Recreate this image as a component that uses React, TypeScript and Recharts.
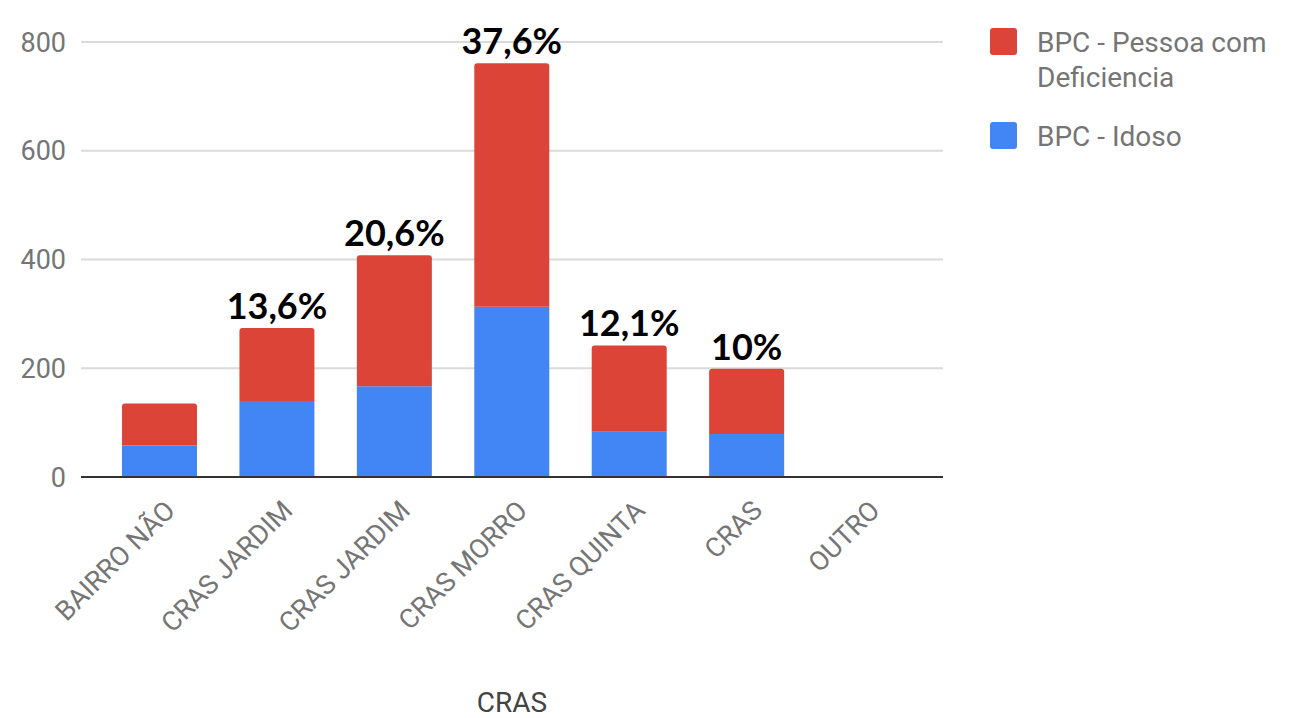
import React from "react";
import { BarChart, Bar, XAxis, YAxis, CartesianGrid, LabelList } from "recharts";

const categories = ["BAIRRO NÃO", "CRAS JARDIM", "CRAS JARDIM", "CRAS MORRO", "CRAS QUINTA", "CRAS", "OUTRO"];
const idoso = [58, 140, 167, 313, 83, 79, 0];
const deficiencia = [77, 134, 241, 448, 159, 120, 0];
const percentLabels = ["", "13,6%", "20,6%", "37,6%", "12,1%", "10%", ""];
const yTicks = [0, 200, 400, 600, 800];

const RED = "#db4437";
const BLUE = "#4285f4";
const GRAY_TEXT = "#757575";

const data = categories.map((name, i) => ({
  name,
  idoso: idoso[i],
  deficiencia: deficiencia[i],
  pct: percentLabels[i],
}));

// rotated category tick, anchored at its end like the sheets chart
function AngledTick({ x, y, payload }: any) {
  return (
    <g transform={`translate(${x + 17},${y + 35})`}>
      <text
        textAnchor="end"
        transform="rotate(-45)"
        fill={GRAY_TEXT}
        fontSize={27}
        fontFamily="Roboto"
      >
        {payload.value}
      </text>
    </g>
  );
}

function LegendBox() {
  const item = { display: "flex", alignItems: "flex-start" } as const;
  const swatch = (c: string) => ({
    width: 27,
    height: 27,
    borderRadius: 3,
    background: c,
    flex: "none",
    marginRight: 20,
  });
  return (
    <div
      style={{
        position: "absolute",
        left: 990,
        top: 28,
        fontFamily: "Roboto",
        fontSize: 28,
        lineHeight: "35px",
        color: GRAY_TEXT,
      }}
    >
      <div style={item}>
        <div style={swatch(RED)} />
        <div style={{ marginTop: -3 }}>
          BPC - Pessoa com
          <br />
          Deficiencia
        </div>
      </div>
      <div style={{ ...item, marginTop: 27 }}>
        <div style={swatch(BLUE)} />
        <div style={{ marginTop: -3 }}>BPC - Idoso</div>
      </div>
    </div>
  );
}

export default function App() {
  return (
    <div style={{ position: "absolute", left: 0, top: 0, width: 1296, height: 718, background: "#fff" }}>
      <BarChart
        width={1296}
        height={718}
        data={data}
        margin={{ top: 42, right: 353, bottom: 0, left: 21 }}
      >
        <CartesianGrid vertical={false} stroke="#dadada" strokeWidth={2} />
        <XAxis
          dataKey="name"
          height={241}
          interval={0}
          padding={{ left: 20, right: 20 }}
          tickLine={false}
          tickSize={0}
          tickMargin={0}
          axisLine={{ stroke: "#333", strokeWidth: 2 }}
          tick={<AngledTick />}
          label={{
            value: "CRAS",
            position: "insideBottom",
            offset: 6,
            fill: "#444",
            fontSize: 28,
            fontFamily: "Roboto",
          }}
        />
        <YAxis
          width={60}
          domain={[0, 800]}
          ticks={yTicks}
          axisLine={false}
          tickLine={false}
          tickSize={0}
          tickMargin={15}
          tick={{ fill: GRAY_TEXT, fontSize: 27, fontFamily: "Roboto" }}
        />
        <Bar dataKey="idoso" stackId="a" fill={BLUE} barSize={75} isAnimationActive={false} />
        <Bar
          dataKey="deficiencia"
          stackId="a"
          fill={RED}
          barSize={75}
          radius={[3, 3, 0, 0]}
          isAnimationActive={false}
        >
          <LabelList
            dataKey="pct"
            position="top"
            offset={9}
            fill="#000"
            fontSize={36}
            fontWeight={700}
            fontFamily="Lato"
          />
        </Bar>
      </BarChart>
      <LegendBox />
    </div>
  );
}
